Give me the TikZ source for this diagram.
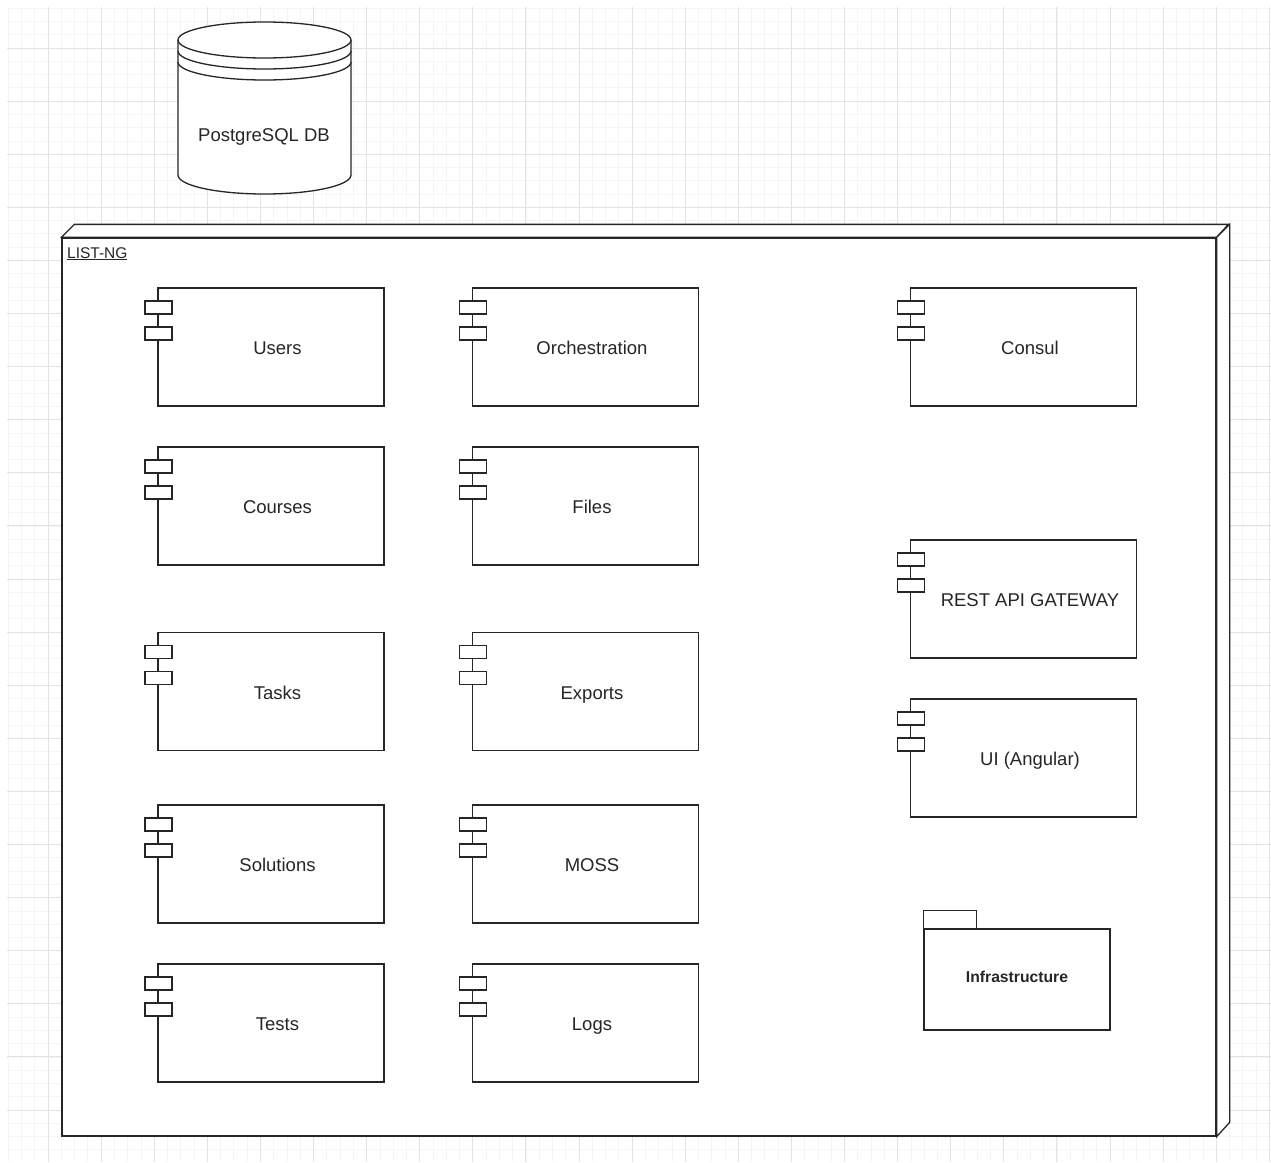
\documentclass[tikz,border=0pt]{standalone}
\usepackage{fontspec}
\setmainfont{Liberation Sans}
\begin{document}
\begin{tikzpicture}[x=1pt,y=-1pt,
  shape line/.style={draw=black!85, line width=1.3pt},
  lbl/.style={font=\fontsize{18.5}{22}\selectfont, text=black!85, inner sep=0pt, anchor=base},
  compbox/.style={shape line, fill=white, minimum width=226pt, minimum height=118pt, inner sep=0pt},
  port/.style={shape line, fill=white},
  comp/.pic={
    \node[compbox] (-box) at (0,0) {};
    \draw[port] (-126,-46) rectangle (-99,-33);
    \draw[port] (-126,-20) rectangle (-99,-7);
    \node[lbl] (-label) at (6.5,7.8) {#1};
  }]
\useasboundingbox (0,0) rectangle (1271,1162);
% background grid
\begin{scope}
\clip (7,7) rectangle (1271,1162);
\foreach \i in {0,...,95} {
  \draw[color=black!4, line width=0.8pt] ({8.2+13.275*\i},7) -- ({8.2+13.275*\i},1162);
}
\foreach \i in {0,...,87} {
  \draw[color=black!4, line width=0.8pt] (7,{8.2+13.275*\i}) -- (1271,{8.2+13.275*\i});
}
\foreach \i in {0,...,23} {
  \draw[color=black!11, line width=0.9pt] ({48+53.1*\i},7) -- ({48+53.1*\i},1162);
}
\foreach \i in {0,...,21} {
  \draw[color=black!11, line width=0.9pt] (7,{48+53.1*\i}) -- (1271,{48+53.1*\i});
}
\end{scope}
% PostgreSQL DB cylinder
\node[minimum width=173pt, minimum height=172pt, inner sep=0pt] (db) at (264.5,108) {};
\fill[white] (178,40) -- (178,175) arc[start angle=180, end angle=360, x radius=86.5, y radius=-19] -- (351,40) arc[start angle=0, end angle=180, x radius=86.5, y radius=-18] -- cycle;
\draw[shape line] (178,40) -- (178,175) arc[start angle=180, end angle=360, x radius=86.5, y radius=-19] -- (351,40);
\draw[shape line] (264.5,40) ellipse[x radius=86.5, y radius=18];
\draw[shape line] (178,51) arc[start angle=180, end angle=360, x radius=86.5, y radius=-18];
\draw[shape line] (178,62) arc[start angle=180, end angle=360, x radius=86.5, y radius=-18];
\node[lbl] (dblabel) at (264,141) {PostgreSQL DB};
% LIST-NG node
\node[shape line, fill=white, minimum width=1154pt, minimum height=898pt, inner sep=0pt] (listng) at (639,687) {};
\draw[shape line, fill=white, line join=miter] (listng.north west) -- ++(13,-13) -- ++(1154,0) -- (listng.north east) -- cycle;
\draw[shape line, fill=white, line join=miter] (listng.north east) -- ++(13,-13) -- ++(0,898) -- (listng.south east) -- cycle;
\node[lbl, anchor=base west, font=\fontsize{15.5}{18}\selectfont] (listnglabel) at (67,258) {\underline{LIST-NG}};
% components
\pic (users) at (271,347) {comp=Users};
\pic (courses) at (271,506) {comp=Courses};
\pic (tasks) at (271,691.5) {comp=Tasks};
\pic (solutions) at (271,864) {comp=Solutions};
\pic (tests) at (271,1023) {comp=Tests};
\pic (orch) at (585.5,347) {comp=Orchestration};
\pic (files) at (585.5,506) {comp=Files};
\pic (exports) at (585.5,691.5) {comp=Exports};
\pic (moss) at (585.5,864) {comp=MOSS};
\pic (logs) at (585.5,1023) {comp=Logs};
\pic (consul) at (1023.5,347) {comp=Consul};
\pic (gateway) at (1023.5,599) {comp=REST API GATEWAY};
\pic (ui) at (1023.5,758) {comp=UI (Angular)};
% Infrastructure package
\node[shape line, fill=white, minimum width=186pt, minimum height=101pt, inner sep=0pt] (infra) at (1017,979.5) {};
\draw[shape line, fill=white] (infra.north west) rectangle ++(53,-18);
\node[lbl, font=\fontsize{15.7}{19}\selectfont\bfseries] (infralabel) at (1017,982) {Infrastructure};
\end{tikzpicture}
\end{document}
